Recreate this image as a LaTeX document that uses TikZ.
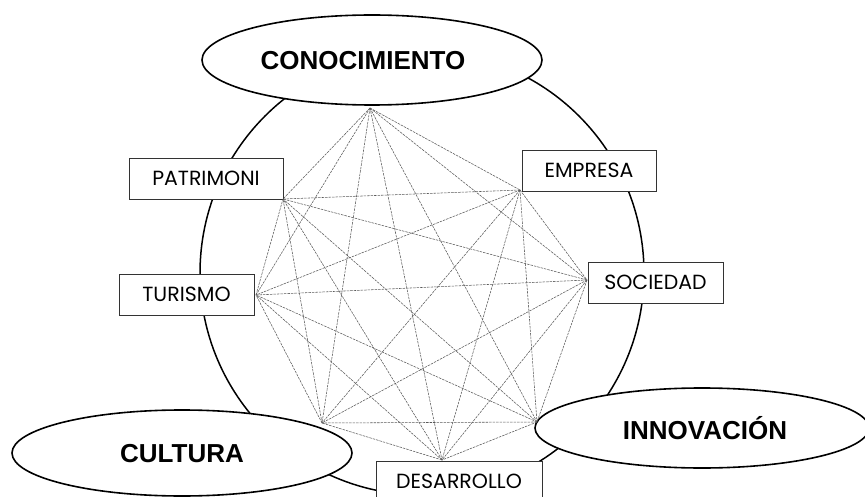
\documentclass[tikz,border=0pt]{standalone}
\usepackage{fontspec}
\setmainfont{Liberation Sans}
\newfontfamily\gothic{Poppins}
\usetikzlibrary{shapes.geometric}
\begin{document}
\begin{tikzpicture}[x=1pt,y=-1pt,
  bigell/.style={draw, ellipse, line width=1.6pt, fill=white, inner sep=0pt},
  bigtxt/.style={font=\fontsize{26}{30}\selectfont\bfseries, inner sep=0pt, text height=18.7pt, text depth=0pt},
  lbox/.style={draw=black!80, line width=0.8pt, fill=white, inner sep=0pt, minimum height=41pt, font=\gothic\fontsize{20.5}{24}\selectfont, text height=14.3pt, text depth=0pt},
  link/.style={draw=black!65, line width=0.55pt, dash pattern=on 2.5pt off 1pt}]
\useasboundingbox (0,0) rectangle (865,497);
\node[circle, draw, line width=1.5pt, minimum size=444pt, inner sep=0pt] (ring) at (422,273) {};
\node[bigell, minimum width=340pt, minimum height=90pt] (cono) at (372,60) {};
\node[bigtxt] (conotxt) at (363,60) {CONOCIMIENTO};
\node[bigell, minimum width=340pt, minimum height=86pt] (cult) at (182,453) {};
\node[bigtxt] (culttxt) at (182,453) {CULTURA};
\node[bigell, minimum width=334pt, minimum height=80pt] (innov) at (702,428) {};
\node[bigtxt] (innovtxt) at (705,430) {INNOVACIÓN};
\node[lbox, minimum width=154pt] (patr) at (206,178.5) {PATRIMONI};
\node[lbox, minimum width=135pt] (tur) at (186.5,294.5) {TURISMO};
\node[lbox, minimum width=134pt] (emp) at (589,170.5) {EMPRESA};
\node[lbox, minimum width=135pt] (soc) at (655.5,282.5) {SOCIEDAD};
\node[lbox, minimum width=166pt] (desa) at (459,481.5) {DESARROLLO};
\coordinate (vK) at (370,108);
\coordinate (vE) at (520,190);
\coordinate (vS) at (587,280);
\coordinate (vI) at (537,422);
\coordinate (vD) at (442,460);
\coordinate (vC) at (322,423);
\coordinate (vT) at (256,295);
\coordinate (vP) at (283,199);
\foreach \a/\b in {vK/vE,vK/vS,vK/vI,vK/vD,vK/vC,vK/vT,vK/vP,
  vE/vS,vE/vI,vE/vD,vE/vC,vE/vT,vE/vP,
  vS/vI,vS/vD,vS/vC,vS/vT,vS/vP,
  vI/vD,vI/vC,vI/vT,vI/vP,
  vD/vC,vD/vT,vD/vP,
  vC/vT,vC/vP,
  vT/vP}
  \draw[link] (\a) -- (\b);
\end{tikzpicture}
\end{document}
